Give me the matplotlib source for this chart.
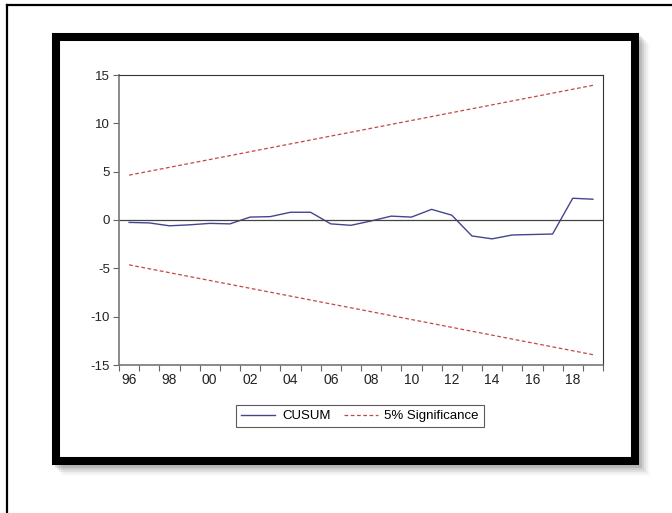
import matplotlib
matplotlib.use("Agg")
import matplotlib.pyplot as plt
from matplotlib.patches import Rectangle
from matplotlib.lines import Line2D
from matplotlib.ticker import MultipleLocator, FixedLocator, FuncFormatter

plt.rcParams['font.family'] = ['Liberation Sans', 'DejaVu Sans']
plt.rcParams['axes.unicode_minus'] = False

# CUSUM statistic, one value per year 1996-2019
years = list(range(1996, 2020))
cusum = [-0.25, -0.3, -0.6, -0.5, -0.35, -0.4, 0.3, 0.35, 0.8, 0.8,
         -0.4, -0.55, -0.1, 0.4, 0.3, 1.1, 0.5, -1.65, -1.95, -1.55,
         -1.5, -1.45, 2.25, 2.15]

# 5% significance bounds (straight lines, given by their end points)
sig_years = [1996, 2019]
sig_upper = [4.64, 13.93]
sig_lower = [-4.64, -13.93]

year_labels = [1996, 1998, 2000, 2002, 2004, 2006, 2008, 2010, 2012, 2014, 2016, 2018]

W, H = 672, 513
fig = plt.figure(figsize=(W / 100, H / 100), dpi=100)

# thin page border (left + top)
fig.add_artist(Line2D([7 / W, 7 / W], [0, 1 - 5 / H], color='black', lw=1.6))
fig.add_artist(Line2D([7 / W, 1], [1 - 5 / H, 1 - 5 / H], color='black', lw=1.6))

# soft shadow behind the thick frame
for i, a in enumerate([0.10, 0.08, 0.06, 0.04, 0.025]):
    off = 3 + i * 2
    fig.add_artist(Rectangle(((52 + off) / W, 1 - (465 + off) / H),
                             (639 - 52) / W, (465 - 33) / H,
                             transform=fig.transFigure, facecolor='black',
                             edgecolor='none', alpha=a, zorder=0))
# white inner panel and thick black frame
fig.add_artist(Rectangle((56 / W, 1 - 461 / H), (635 - 56) / W, (461 - 37) / H,
                         transform=fig.transFigure, facecolor='white',
                         edgecolor='black', lw=5.8, zorder=1))

ax = fig.add_axes([119 / W, 1 - 365 / H, (603 - 119) / W, (365 - 75) / H])
ax.set_zorder(2)

ax.plot(years, cusum, color='#45458f', lw=1.0, label='CUSUM')
ax.plot(sig_years, sig_upper, color='#c04848', lw=0.9, dashes=(3, 2),
        label='5% Significance')
ax.plot(sig_years, sig_lower, color='#c04848', lw=0.9, dashes=(3, 2))
ax.axhline(0, color='#444444', lw=0.9)

ax.set_xlim(1995.5, 2019.5)
ax.set_ylim(-15, 15)

ax.yaxis.set_major_locator(MultipleLocator(5))
ax.tick_params(axis='y', direction='out', length=4.5, width=0.8,
               color='#666666', labelsize=9.5, pad=2, labelcolor='#222222')

# labels in the middle of each year, ticks on the year boundaries
ax.xaxis.set_major_locator(FixedLocator(year_labels))
ax.xaxis.set_major_formatter(FuncFormatter(lambda v, p: '%02d' % (int(round(v)) % 100)))
ax.xaxis.set_minor_locator(FixedLocator([y + 0.5 for y in range(1995, 2020)]))
ax.tick_params(axis='x', which='major', length=0, labelsize=10, pad=6,
               labelcolor='#222222')
ax.tick_params(axis='x', which='minor', direction='out', length=4, width=0.8,
               color='#666666')

for s in ['left', 'bottom']:
    ax.spines[s].set_color('#777777')
    ax.spines[s].set_linewidth(1.2)
for s in ['top', 'right']:
    ax.spines[s].set_color('#333333')
    ax.spines[s].set_linewidth(0.8)

leg = fig.legend(loc='center', bbox_to_anchor=(360 / W, 1 - 416 / H), ncol=2,
                 frameon=True, fancybox=False, fontsize=9.5, handlelength=2.6,
                 columnspacing=1.0, handletextpad=0.5, borderpad=0.35,
                 borderaxespad=0)
leg.get_frame().set_edgecolor('#333333')
leg.get_frame().set_linewidth(0.8)
leg.set_zorder(3)

fig.savefig('out.png', dpi=100)
